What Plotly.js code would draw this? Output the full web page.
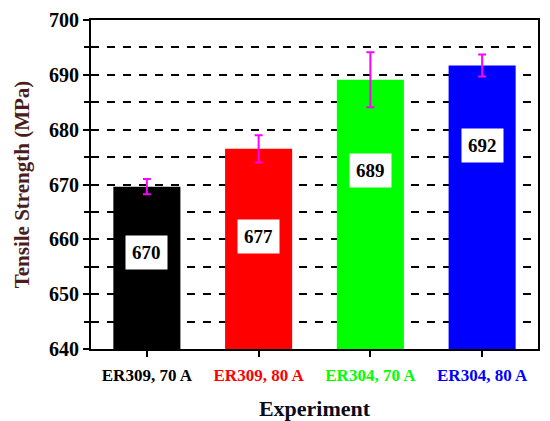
<!DOCTYPE html>
<html>
<head>
<meta charset="utf-8">
<script src="https://cdn.plot.ly/plotly-3.0.1.min.js"></script>
<style>html,body{margin:0;padding:0;background:#fff;}#chart{width:550px;height:421px;}</style>
</head>
<body>
<div id="chart"></div>
<script>
const categories = ["ER309, 70 A", "ER309, 80 A", "ER304, 70 A", "ER304, 80 A"];
const strength = [669.6, 676.5, 689.1, 691.7];
const errors = [1.4, 2.5, 5.0, 2.0];
const labels = ["670", "677", "689", "692"];
const barColors = ["#000000", "#ff0000", "#00ff00", "#0000ff"];
const labelOffset = [12, 16, 16.5, 14.5];

const font = "'Liberation Serif'";

const trace = {
  type: "bar",
  x: categories,
  y: strength,
  width: 0.6,
  marker: {color: barColors, line: {width: 0}},
  error_y: {type: "data", array: errors, visible: true, color: "#ff00ff", thickness: 2, width: 4},
  hoverinfo: "none"
};

const annotations = categories.map((c, i) => ({
  x: c, y: strength[i] - labelOffset[i], xref: "x", yref: "y",
  text: labels[i], showarrow: false,
  bgcolor: "#ffffff", borderpad: 6,
  font: {family: font, size: 19, color: "#000000", weight: "bold"}
}));

const tickText = categories.map((c, i) => "<span style='color:" + barColors[i] + "'>" + c + "</span>");

const layout = {
  width: 550, height: 421,
  margin: {l: 91, r: 12, t: 20, b: 72},
  paper_bgcolor: "#ffffff", plot_bgcolor: "#ffffff",
  showlegend: false,
  bargap: 0.4,
  xaxis: {
    type: "category",
    tickmode: "array", tickvals: categories, ticktext: tickText,
    tickfont: {family: font, size: 17, weight: "bold"},
    ticks: "outside", ticklen: 6, tickwidth: 2, tickcolor: "#000", ticklabelstandoff: 4,
    minor: {ticks: "outside", ticklen: 4, tickwidth: 2, tickcolor: "#000", dtick: 1, tick0: 0.5},
    showline: true, linecolor: "#000", linewidth: 2, mirror: true,
    showgrid: false, zeroline: false,
    title: {text: "Experiment", font: {family: font, size: 22, color: "#0a0a1a", weight: "bold"}, standoff: 20}
  },
  yaxis: {
    range: [640, 700], dtick: 10, tick0: 640,
    tickfont: {family: font, size: 20, color: "#000", weight: "bold"},
    ticks: "outside", ticklen: 6, tickwidth: 2, tickcolor: "#000",
    showgrid: true, gridcolor: "#000", gridwidth: 2, griddash: "8px,8px",
    minor: {dtick: 5, ticks: "outside", ticklen: 5, tickwidth: 2, tickcolor: "#000",
            showgrid: true, gridcolor: "#000", gridwidth: 2, griddash: "8px,8px"},
    showline: true, linecolor: "#000", linewidth: 2, mirror: true,
    zeroline: false,
    title: {text: "Tensile Strength (MPa)", font: {family: font, size: 21, color: "#4a1c1c", weight: "bold"}, standoff: 14}
  },
  annotations: annotations
};

Plotly.newPlot("chart", [trace], layout, {displayModeBar: false, staticPlot: true});
</script>
</body>
</html>
